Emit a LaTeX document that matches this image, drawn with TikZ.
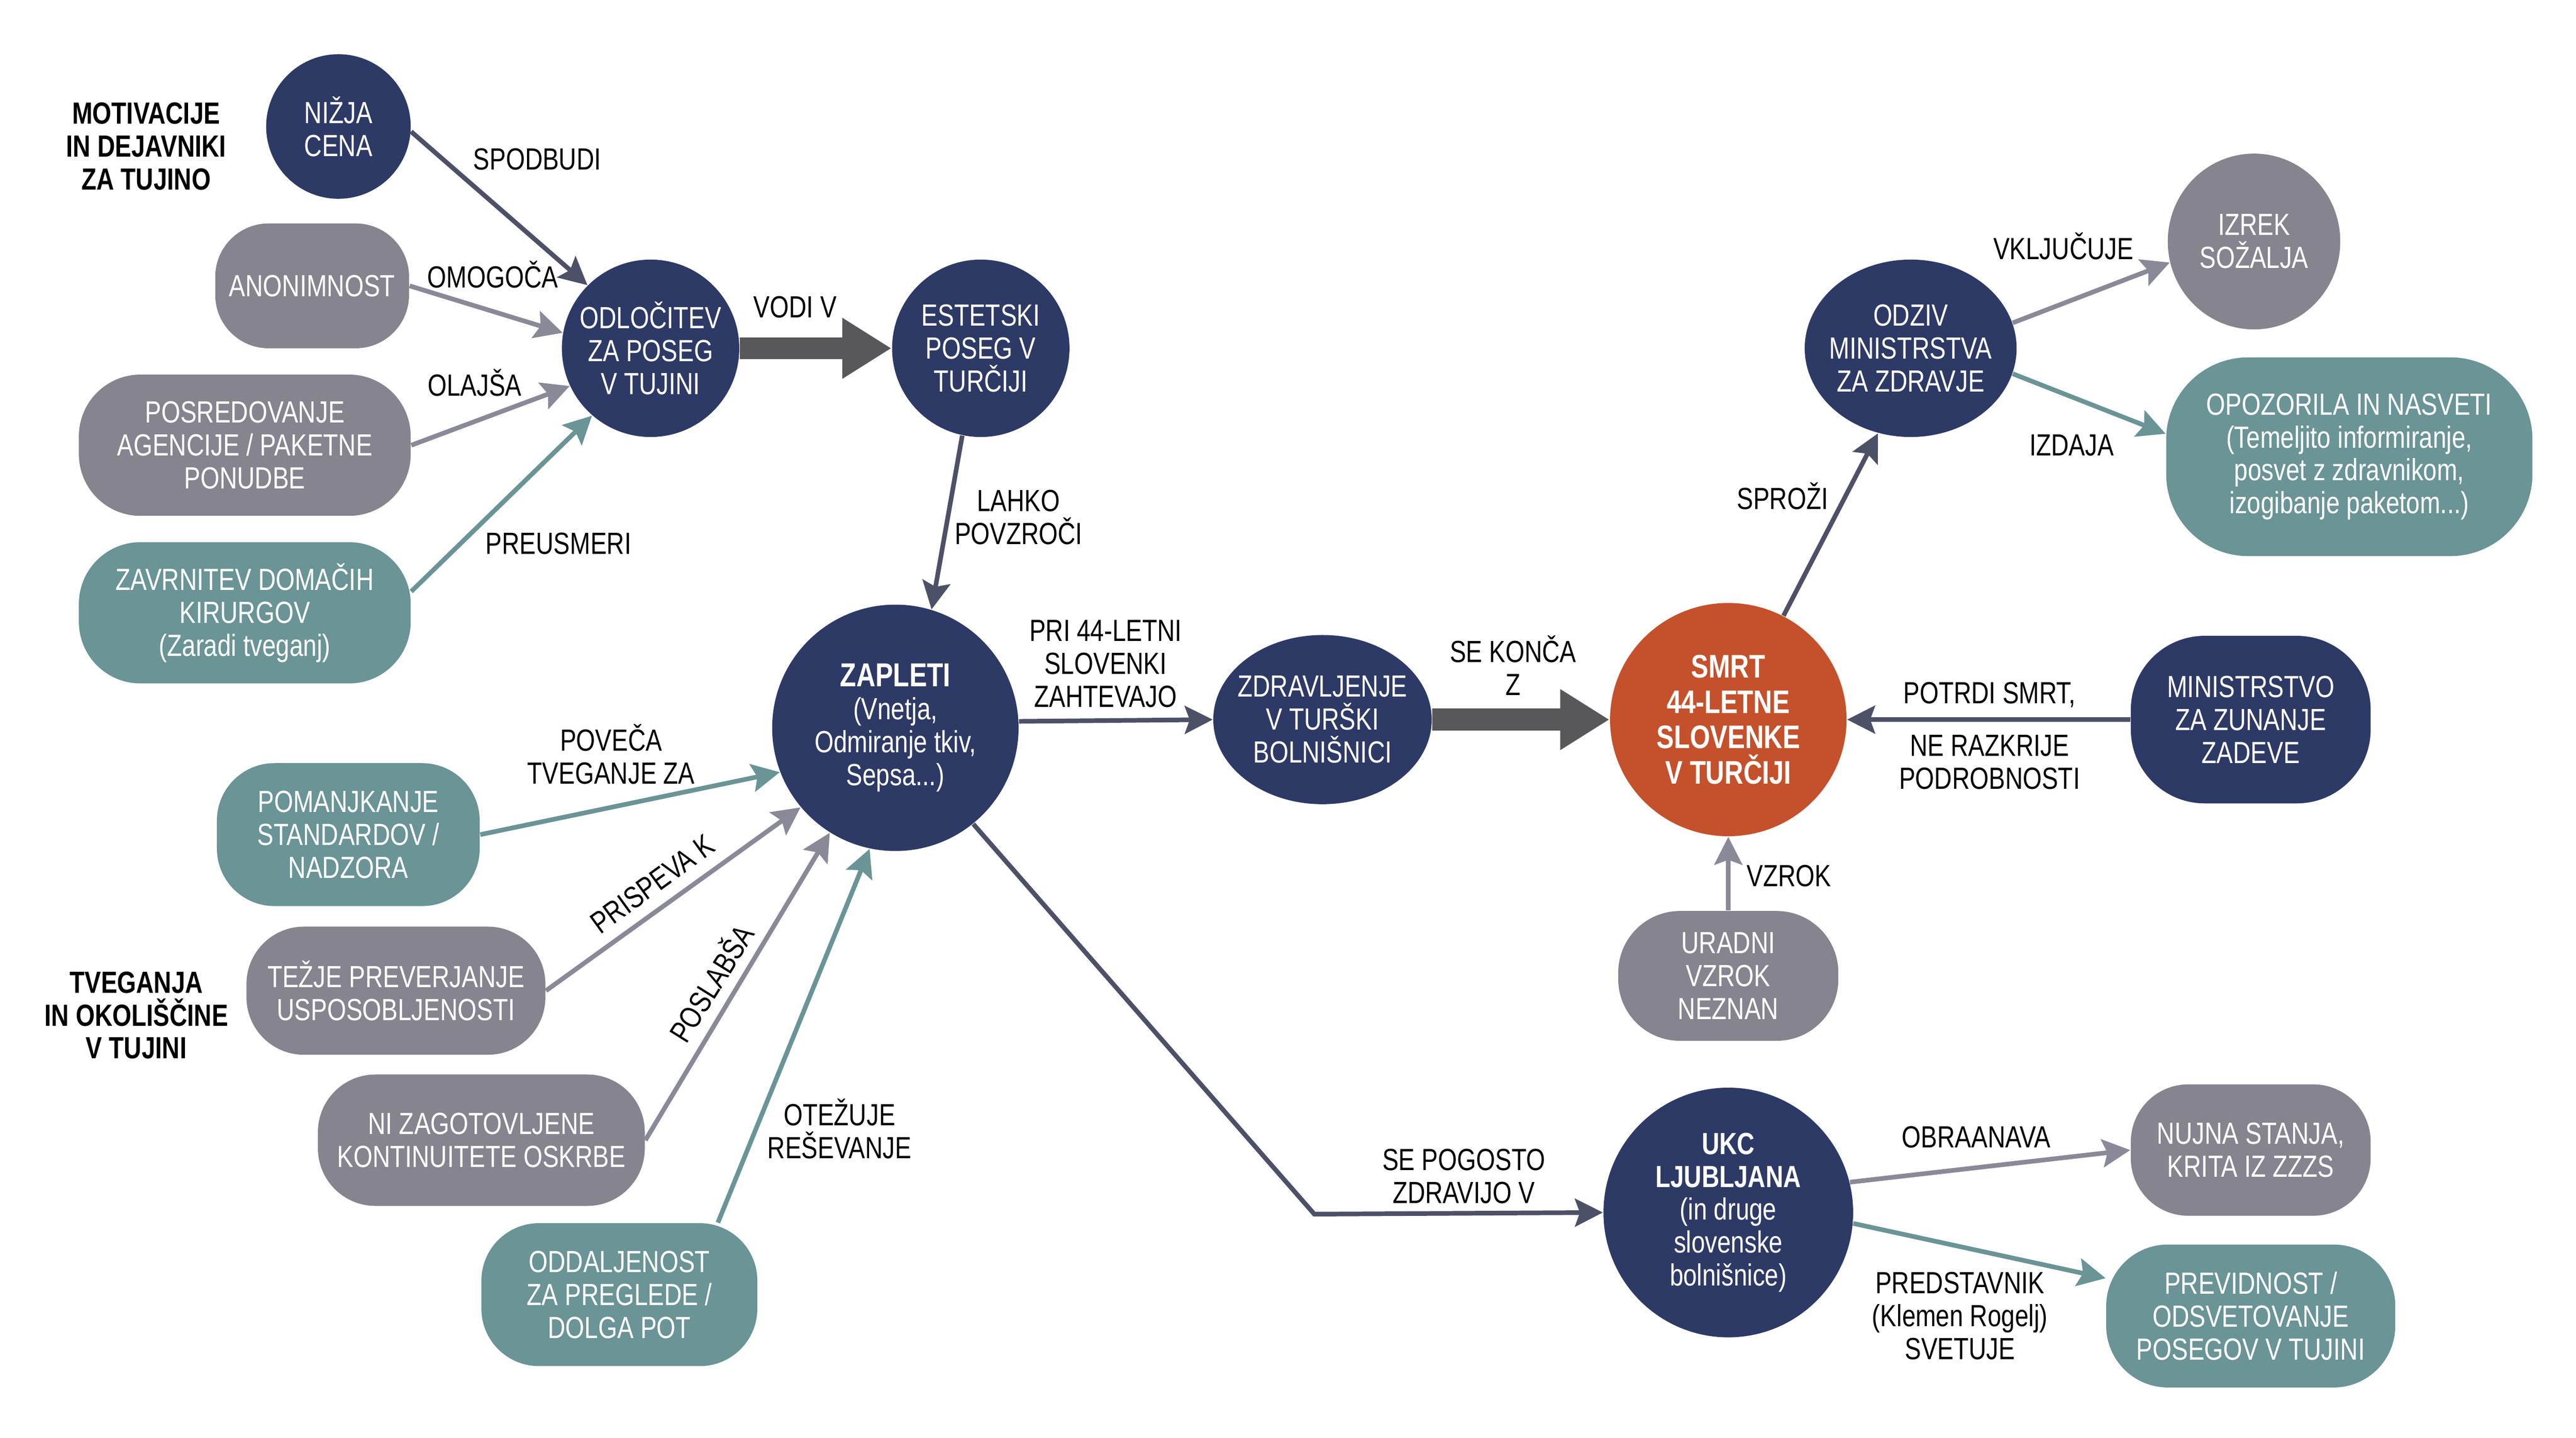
\documentclass[tikz,border=0pt]{standalone}
\usepackage{fontspec}
\setmainfont{Liberation Sans}[FakeStretch=0.8]
\usetikzlibrary{arrows.meta,shapes.geometric}
\definecolor{navy}{HTML}{2E3A66}
\definecolor{siva}{HTML}{85848F}
\definecolor{teal}{HTML}{6A9496}
\definecolor{oranzna}{HTML}{C4512B}
\definecolor{temna}{HTML}{4D5168}
\definecolor{svetla}{HTML}{8A8998}
\definecolor{blokc}{HTML}{58585B}
\begin{document}
\begin{tikzpicture}[x=0.02cm,y=-0.02cm,
	every node/.style={font=\fontsize{10.6}{11.4}\selectfont,align=center,inner sep=0pt},
	krog/.style={ellipse,fill=navy,text=white,inner sep=-0.4cm},
	skatla/.style={rectangle,rounded corners=0.7cm,text=white},
	naslov/.style={font=\fontsize{10.6}{11.4}\selectfont\bfseries},
	pus/.style={line width=1.6pt,-{Stealth[length=0.34cm,width=0.34cm,inset=0.06cm]}},
	blok/.style={line width=0.266cm,draw=blokc,-{Triangle[length=0.6cm,width=0.7cm]}}]
	\fill[white](0,0)rectangle(1568,875.2);
	\useasboundingbox(0,0)rectangle(1568,875.2);

	\node[naslov](motiv)at(89,89){MOTIVACIJE\\IN DEJAVNIKI\\ZA TUJINO};
	\node[naslov](tveg)at(83,618){TVEGANJA\\IN OKOLIŠČINE\\V TUJINI};

	\node[krog,minimum width=1.76cm,minimum height=1.76cm](nizja)at(206,77){NIŽJA\\CENA};
	\node[skatla,fill=siva,minimum width=2.36cm,minimum height=1.52cm,rounded corners=0.65cm](anon)at(190,174){ANONIMNOST};
	\node[skatla,fill=siva,minimum width=4.04cm,minimum height=1.72cm,rounded corners=0.75cm](posr)at(149,271){POSREDOVANJE\\AGENCIJE / PAKETNE\\PONUDBE};
	\node[skatla,fill=teal,minimum width=4.04cm,minimum height=1.72cm,rounded corners=0.75cm](zavr)at(149,373){ZAVRNITEV DOMAČIH\\KIRURGOV\\(Zaradi tveganj)};
	\node[krog,minimum width=2.16cm,minimum height=2.16cm](odl)at(396,212){ODLOČITEV\\ZA POSEG\\V TUJINI};
	\node[krog,minimum width=2.16cm,minimum height=2.16cm](est)at(597,212){ESTETSKI\\POSEG V\\TURČIJI};
	\node[krog,minimum width=3cm,minimum height=3cm](zap)at(545,443){{\fontsize{11.5}{11.4}\selectfont\bfseries ZAPLETI}\\(Vnetja,\\Odmiranje tkiv,\\Sepsa...)};

	\node[skatla,fill=teal,minimum width=3.2cm,minimum height=1.74cm](pom)at(212,508){POMANJKANJE\\STANDARDOV /\\NADZORA};
	\node[skatla,fill=siva,minimum width=3.64cm,minimum height=1.56cm](tez)at(241,603){TEŽJE PREVERJANJE\\USPOSOBLJENOSTI};
	\node[skatla,fill=siva,minimum width=3.98cm,minimum height=1.6cm](nizag)at(293,694){NI ZAGOTOVLJENE\\KONTINUITETE OSKRBE};
	\node[skatla,fill=teal,minimum width=3.36cm,minimum height=1.74cm](odd)at(377,788){ODDALJENOST\\ZA PREGLEDE /\\DOLGA POT};

	\node[krog,minimum width=2.66cm,minimum height=2.06cm](zdr)at(805,438){ZDRAVLJENJE\\V TURŠKI\\BOLNIŠNICI};
	\node[krog,fill=oranzna,minimum width=2.88cm,minimum height=2.84cm,font=\fontsize{11.3}{12.3}\selectfont\bfseries](smrt)at(1052,438){SMRT\\44-LETNE\\SLOVENKE\\V TURČIJI};
	\node[krog,minimum width=2.58cm,minimum height=2.16cm](odz)at(1163,212){ODZIV\\MINISTRSTVA\\ZA ZDRAVJE};
	\node[krog,fill=siva,minimum width=2.1cm,minimum height=2.14cm](izr)at(1372,147){IZREK\\SOŽALJA};
	\node[skatla,fill=teal,minimum width=4.46cm,minimum height=2.42cm,rounded corners=1cm](opoz)at(1430,278){OPOZORILA IN NASVETI\\(Temeljito informiranje,\\posvet z zdravnikom,\\izogibanje paketom...)};
	\node[skatla,fill=navy,minimum width=2.92cm,minimum height=2.04cm,rounded corners=0.9cm](mzz)at(1370,438){MINISTRSTVO\\ZA ZUNANJE\\ZADEVE};
	\node[skatla,fill=siva,minimum width=2.68cm,minimum height=1.58cm,rounded corners=0.75cm](ura)at(1052,594){URADNI\\VZROK\\NEZNAN};
	\node[krog,minimum width=3.04cm,minimum height=3.04cm](ukc)at(1052,738){\textbf{UKC}\\\textbf{LJUBLJANA}\\(in druge\\slovenske\\bolnišnice)};
	\node[skatla,fill=siva,minimum width=2.92cm,minimum height=1.6cm](nujna)at(1370,700){NUJNA STANJA,\\KRITA IZ ZZZS};
	\node[skatla,fill=teal,minimum width=3.52cm,minimum height=1.74cm,rounded corners=0.75cm](prev)at(1370,801){PREVIDNOST /\\ODSVETOVANJE\\POSEGOV V TUJINI};
	\coordinate(koleno)at(800,739);

	\draw[pus,temna](nizja.-4)--(odl.135);
	\draw[pus,svetla](anon.east)--(odl.170);
	\draw[pus,svetla](posr.east)--(odl.205);
	\draw[pus,teal]([yshift=0.26cm]zavr.east)--(odl.229);
	\draw[blok](odl.east)--(est.west);
	\draw[pus,temna](est.258)--(zap.73);
	\draw[pus,temna](zap.3)--(zdr.west);
	\draw[blok](zdr.east)--(smrt.west);
	\draw[pus,temna](smrt.62)--(odz.249);
	\draw[pus,svetla](odz.14)--(izr.194);
	\draw[pus,teal](odz.-14)--([yshift=0.28cm]opoz.west);
	\draw[pus,temna](mzz.west)--(smrt.east);
	\draw[pus,svetla](ura.north)--(smrt.south);
	\draw[pus,temna](zap.-51)--(koleno)--(ukc.west);
	\draw[pus,svetla](ukc.14)--(nujna.west);
	\draw[pus,teal](ukc.-5)--([yshift=0.46cm]prev.west);
	\draw[pus,teal](pom.east)--(zap.201);
	\draw[pus,svetla](tez.east)--(zap.220);
	\draw[pus,svetla](nizag.east)--(zap.238);
	\draw[pus,teal]([xshift=1.2cm]odd.north)--(zap.258);

	\node(lspod)at(327,97){SPODBUDI};
	\node(lomog)at(300,167){OMOGOČA};
	\node(lolaj)at(289,233){OLAJŠA};
	\node(lpreu)at(340,331){PREUSMERI};
	\node(lvodi)at(484,187){VODI V};
	\node(llahko)at(620,315){LAHKO\\POVZROČI};
	\node(lpri)at(673,404){PRI 44-LETNI\\SLOVENKI\\ZAHTEVAJO};
	\node(lkonca)at(921,405){SE KONČA\\Z};
	\node(lspro)at(1085,302){SPROŽI};
	\node(lvklj)at(1256,150){VKLJUČUJE};
	\node(lizda)at(1261,271){IZDAJA};
	\node(lpotr)at(1211,423){POTRDI SMRT,};
	\node(lnera)at(1211,464){NE RAZKRIJE\\PODROBNOSTI};
	\node(lvzrok)at(1089,533){VZROK};
	\node(lpogo)at(891,716){SE POGOSTO\\ZDRAVIJO V};
	\node(lobra)at(1203,692){OBRAANAVA};
	\node(lpred)at(1193,801){PREDSTAVNIK\\(Klemen Rogelj)\\SVETUJE};
	\node(lpove)at(372,459){POVEČA\\TVEGANJE ZA};
	\node[rotate=36](lpris)at(397,538){PRISPEVA K};
	\node[rotate=58](lposl)at(432,598){POSLABŠA};
	\node(lotez)at(511,687){OTEŽUJE\\REŠEVANJE};
\end{tikzpicture}
\end{document}
